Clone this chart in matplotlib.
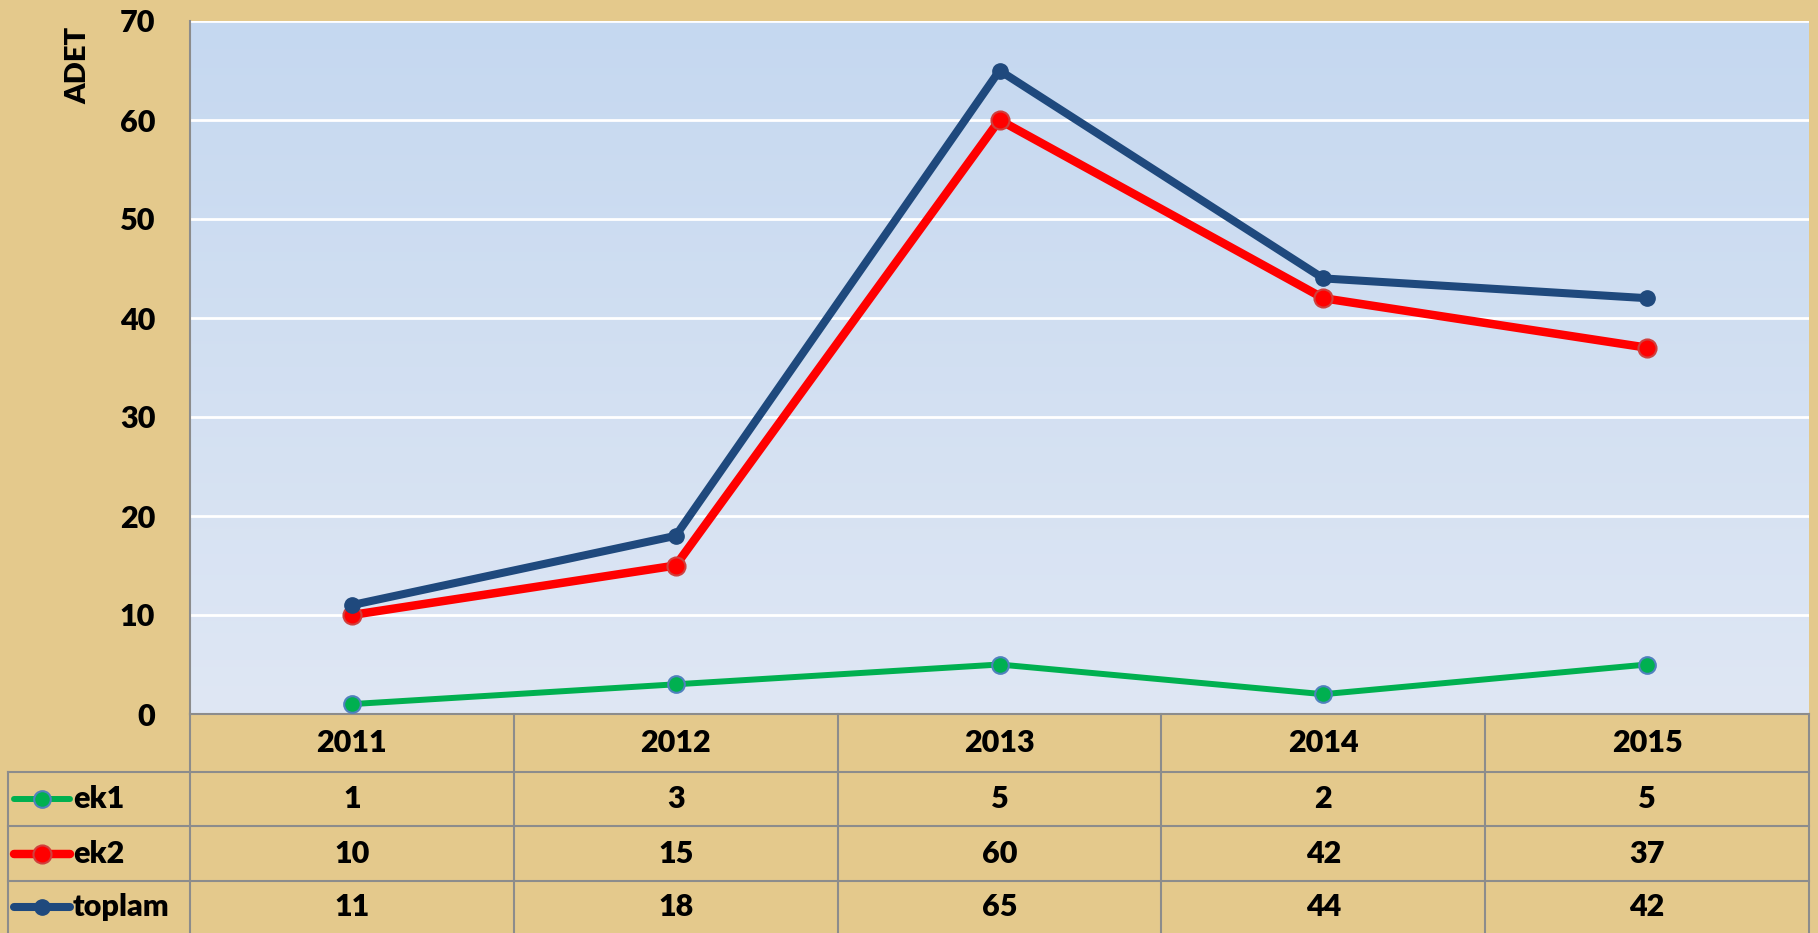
import numpy as np
import matplotlib
matplotlib.use("Agg")
import matplotlib.pyplot as plt

years = ["2011", "2012", "2013", "2014", "2015"]
series_names = ["ek1", "ek2", "toplam"]
ek1 = [1, 3, 5, 2, 5]
ek2 = [10, 15, 60, 42, 37]
toplam = [11, 18, 65, 44, 42]
series_values = [ek1, ek2, toplam]

plt.rcParams['font.family'] = ['Lato', 'DejaVu Sans']
FW = 'heavy'
FS = 22

W, H = 1818, 933
fig = plt.figure(figsize=(W / 100, H / 100), dpi=100)
fig.patch.set_facecolor("#E4C98C")


def px_box(x0, y0, x1, y1):
    # pixel box (top-left origin) -> figure fraction rect
    return [x0 / W, 1 - y1 / H, (x1 - x0) / W, (y1 - y0) / H]


# line styles per series
styles = [
    dict(color="#00B050", lw=4.3, ms=12, mfc="#00B050", mec="#4F81BD", mew=1.5),
    dict(color="#FF0000", lw=6.1, ms=13, mfc="#FF0000", mec="#D0403D", mew=1.5),
    dict(color="#1F497D", lw=5.8, ms=11, mfc="#1F497D", mec="#1F497D", mew=1.0),
]

# main plot
ax = fig.add_axes(px_box(190, 21, 1809, 714))
x = np.arange(len(years))
ax.set_xlim(-0.5, len(years) - 0.5)
ax.set_ylim(0, 70)

# gradient background of the plot area
top = np.array([197, 216, 240]) / 255
bot = np.array([223, 231, 244]) / 255
t = np.linspace(0, 1, 256)[:, None, None]
img = top + (bot - top) * t
ax.imshow(img, extent=[-0.5, len(years) - 0.5, 0, 70], aspect='auto',
          origin='upper', zorder=0)

ax.set_yticks(range(0, 80, 10))
ax.set_xticks([])
ax.yaxis.grid(True, color='white', lw=2)
ax.set_axisbelow(True)
ax.tick_params(axis='y', length=0, pad=25, labelsize=FS)
for lab in ax.get_yticklabels():
    lab.set_fontweight(FW)
for side in ['top', 'right']:
    ax.spines[side].set_visible(False)
for side in ['left', 'bottom']:
    ax.spines[side].set_color('#8C8C8C')
    ax.spines[side].set_linewidth(1.5)

for vals, st in zip(series_values, styles):
    ax.plot(x, vals, marker='o', solid_capstyle='round',
            solid_joinstyle='round', clip_on=False, zorder=3, **st)

fig.text(78 / W, 1 - 65 / H, "ADET", rotation=90, ha='center', va='center',
         fontsize=21, fontweight=FW)

# data table under the plot
tax = fig.add_axes(px_box(0, 714, W, H))
tax.set_xlim(0, W)
tax.set_ylim(H, 714)
tax.axis('off')

col_x = np.linspace(190, 1809, len(years) + 1)
row_y = [714, 772, 826, 881, 933]
grid_c = '#8C8C8C'

for yy in row_y[1:-1]:
    tax.plot([8, 1809], [yy, yy], color=grid_c, lw=1.5, clip_on=False)
tax.plot([8, 8], [772, 933], color=grid_c, lw=1.5, clip_on=False)
for xx in col_x:
    tax.plot([xx, xx], [714, 933], color=grid_c, lw=1.5, clip_on=False)

centers = (col_x[:-1] + col_x[1:]) / 2
for cx, yr in zip(centers, years):
    tax.text(cx, (row_y[0] + row_y[1]) / 2, yr, ha='center', va='center',
             fontsize=FS, fontweight=FW)

for i, (name, vals, st) in enumerate(zip(series_names, series_values, styles)):
    cy = (row_y[i + 1] + row_y[i + 2]) / 2
    tax.plot([14, 70], [cy, cy], color=st['color'], lw=st['lw'],
             solid_capstyle='round', clip_on=False)
    tax.plot([42], [cy], marker='o', ms=st['ms'], mfc=st['mfc'],
             mec=st['mec'], mew=st['mew'], clip_on=False)
    tax.text(73, cy, name, ha='left', va='center', fontsize=FS,
             fontweight=FW)
    for cx, v in zip(centers, vals):
        tax.text(cx, cy, str(v), ha='center', va='center', fontsize=FS,
                 fontweight=FW)

fig.savefig("out.png", dpi=100, facecolor=fig.get_facecolor())
